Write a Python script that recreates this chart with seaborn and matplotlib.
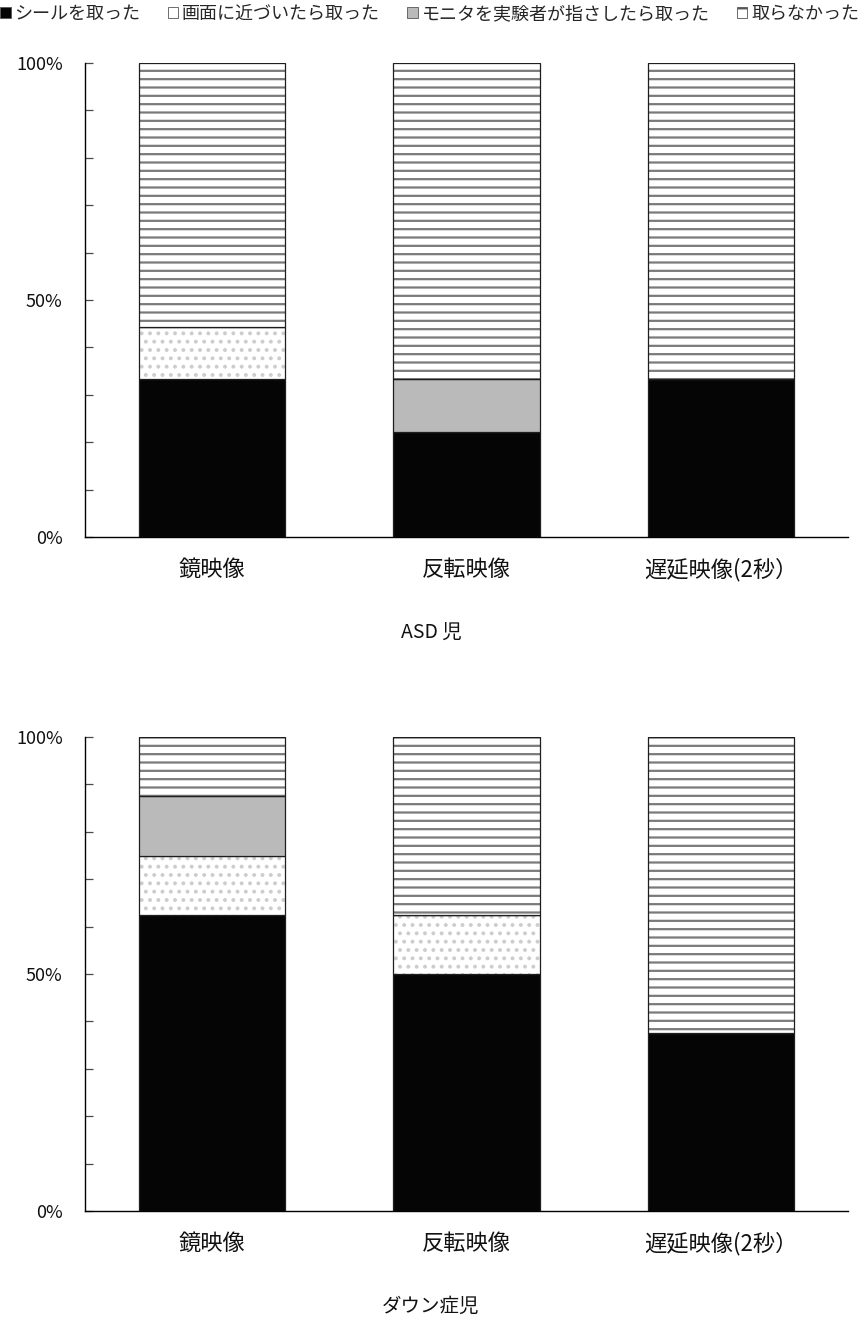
import matplotlib
matplotlib.use("Agg")
import matplotlib.pyplot as plt
import seaborn as sns
from matplotlib.patches import Patch
from matplotlib.ticker import FixedLocator, FuncFormatter

sns.set_theme(style="white")
plt.rcParams["font.family"] = ["Noto Sans CJK JP", "DejaVu Sans"]
plt.rcParams["hatch.linewidth"] = 1.6

# --- data (percent of children per response) ---
conditions = ["鏡映像", "反転映像", "遅延映像(2秒）"]
responses = ["シールを取った", "画面に近づいたら取った",
             "モニタを実験者が指さしたら取った", "取らなかった"]
group_titles = ["ASD 児", "ダウン症児"]

asd_took = [33.3, 22.2, 33.3]
asd_near = [11.1, 0.0, 0.0]
asd_pointed = [0.0, 11.1, 0.0]
asd_none = [55.6, 66.7, 66.7]

down_took = [62.5, 50.0, 37.5]
down_near = [12.5, 12.5, 0.0]
down_pointed = [12.5, 0.0, 0.0]
down_none = [12.5, 37.5, 62.5]

groups = [
    [asd_took, asd_near, asd_pointed, asd_none],
    [down_took, down_near, down_pointed, down_none],
]

# fill colour, hatch pattern, hatch colour per response
styles = [
    ("#050505", None, "#050505"),
    ("white", "..", "#cdcdcd"),
    ("#bababa", None, "#bababa"),
    ("white", "--", "#7a7a7a"),
]
# small legend swatches: the dotted fill is shown as a plain box
legend_hatches = [None, None, None, "-"]

W, H = 862, 1317
fig = plt.figure(figsize=(W / 100, H / 100), dpi=100)

ax_left, ax_right = 85 / W, 848 / W
panels = [(63, 537), (737, 1211)]
title_y = [632, 1306]

for (top_px, bot_px), layers, title, ty in zip(panels, groups, group_titles, title_y):
    ax = fig.add_axes([ax_left, 1 - bot_px / H, ax_right - ax_left, (bot_px - top_px) / H])
    bottom = [0.0, 0.0, 0.0]
    for vals, (face, hatch, hcol) in zip(layers, styles):
        sns.barplot(x=conditions, y=vals, bottom=bottom, color=face, saturation=1,
                    hatch=hatch, edgecolor=hcol, linewidth=0, width=0.575,
                    errorbar=None, ax=ax)
        sns.barplot(x=conditions, y=vals, bottom=bottom, color="#1e1e1e", fill=False,
                    linewidth=0.9, width=0.575, errorbar=None, ax=ax)
        bottom = [b + v for b, v in zip(bottom, vals)]

    ax.set_ylim(0, 100)
    ax.set_xlim(-0.5, 2.5)
    ax.yaxis.set_major_locator(FixedLocator(list(range(0, 101, 10))))
    ax.yaxis.set_major_formatter(FuncFormatter(lambda v, p: f"{v:.0f}%" if v % 50 == 0 else ""))
    ax.tick_params(axis="y", direction="in", length=6, width=0.9, color="#4a4a4a",
                   pad=16, labelsize=13, labelcolor="#111111", left=True)
    ax.tick_params(axis="x", length=0, pad=15, labelsize=16, labelcolor="#111111")
    ax.set_xlabel("")
    ax.set_ylabel("")
    sns.despine(ax=ax)
    for side in ("left", "bottom"):
        ax.spines[side].set_color("black")
        ax.spines[side].set_linewidth(1.0)

    fig.text(0.5, 1 - ty / H, title, ha="center", va="center", fontsize=14, color="#111111")

handles = [Patch(facecolor=face, hatch=lh, edgecolor="#555555", linewidth=0.6)
           for (face, _, _), lh in zip(styles, legend_hatches)]
fig.legend(handles, responses, loc="center left", bbox_to_anchor=(0.0, 1 - 14 / H),
           ncol=4, frameon=False, fontsize=13, handlelength=0.6, handleheight=0.6,
           handletextpad=0.2, columnspacing=1.5, borderaxespad=0, borderpad=0)

fig.savefig("out.png", dpi=100)
